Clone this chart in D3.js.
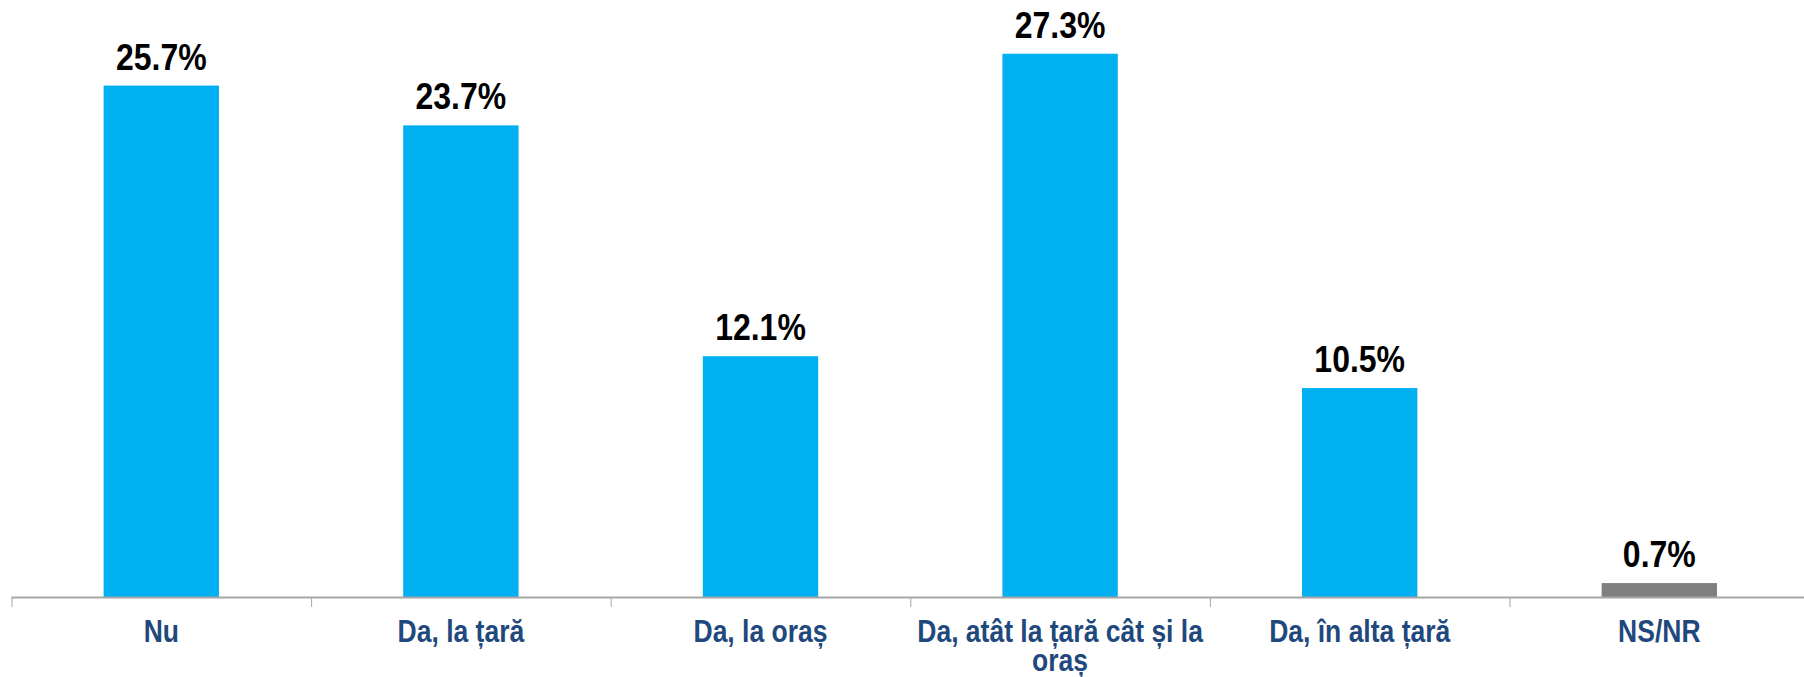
<!DOCTYPE html>
<html>
<head>
<meta charset="utf-8">
<script src="https://cdn.jsdelivr.net/npm/d3@7"></script>
<style>
  body { margin: 0; background: #fff; }
  svg { display: block; font-family: "Liberation Sans", Arial, sans-serif; }
</style>
</head>
<body>
<div id="chart"></div>
<script>
// chart data
var categories = ["Nu", "Da, la țară", "Da, la oraș", "Da, atât la țară cât și la oraș", "Da, în alta țară", "NS/NR"];
var values = [25.7, 23.7, 12.1, 27.3, 10.5, 0.7];
var barColors = ["#00B0F0", "#00B0F0", "#00B0F0", "#00B0F0", "#00B0F0", "#808080"];

var width = 1804, height = 677;
var margin = {left: 11.5, baseline: 597};
var step = 299.6; // category width in the original, the last one runs past the right edge

var svg = d3.select("#chart").append("svg")
    .attr("width", width)
    .attr("height", height);

var x = d3.scaleBand()
    .domain(categories)
    .range([margin.left, margin.left + step * categories.length])
    .paddingInner(0.615)
    .paddingOuter(0.3075);

var y = d3.scaleLinear()
    .domain([0, 30])
    .range([margin.baseline, 0]);

// bars
svg.append("g").selectAll("rect")
    .data(values)
    .enter().append("rect")
    .attr("x", function (d, i) { return x(categories[i]); })
    .attr("y", function (d) { return y(d); })
    .attr("width", x.bandwidth())
    .attr("height", function (d) { return y(0) - y(d); })
    .attr("fill", function (d, i) { return barColors[i]; });

// value labels (slightly stretched vertically like the original)
svg.append("g").selectAll("text")
    .data(values)
    .enter().append("text")
    .attr("transform", function (d, i) {
        return "translate(" + (x(categories[i]) + x.bandwidth() / 2) + "," + (y(d) - 16) + ") scale(1,1.15)";
    })
    .attr("text-anchor", "middle")
    .style("font-size", "32px")
    .style("font-weight", "bold")
    .attr("fill", "#000")
    .text(function (d) { return d.toFixed(1) + "%"; });

// category axis: line + ticks at band boundaries
var ticksX = d3.range(categories.length).map(function (i) { return margin.left + i * x.step(); });
var axis = svg.append("g");
axis.append("line")
    .attr("x1", margin.left).attr("x2", width)
    .attr("y1", margin.baseline + 0.5).attr("y2", margin.baseline + 0.5)
    .attr("stroke", "#A6A6A6").attr("stroke-width", 2);
axis.selectAll("line.tick")
    .data(ticksX)
    .enter().append("line")
    .attr("class", "tick")
    .attr("x1", function (d) { return d + 0.5; }).attr("x2", function (d) { return d + 0.5; })
    .attr("y1", margin.baseline).attr("y2", margin.baseline + 10)
    .attr("stroke", "#A6A6A6").attr("stroke-width", 1);

// category labels, wrapped to the band width
var catLabels = svg.append("g").selectAll("text")
    .data(categories)
    .enter().append("text")
    .attr("text-anchor", "middle")
    .style("font-size", "26.5px")
    .style("font-weight", "bold")
    .attr("fill", "#1F497D")
    .attr("transform", function (d) {
        return "translate(" + (x(d) + x.bandwidth() / 2) + "," + 642 + ") scale(1,1.15)";
    });

catLabels.each(function (d) {
    var el = d3.select(this);
    var words = d.split(" ");
    var line = [];
    var tspan = el.append("tspan").attr("x", 0).attr("dy", 0);
    words.forEach(function (w) {
        line.push(w);
        tspan.text(line.join(" "));
        if (tspan.node().getComputedTextLength() > x.step() - 4 && line.length > 1) {
            line.pop();
            tspan.text(line.join(" "));
            line = [w];
            tspan = el.append("tspan").attr("x", 0).attr("dy", 25.5).text(w);
        }
    });
});
</script>
</body>
</html>
